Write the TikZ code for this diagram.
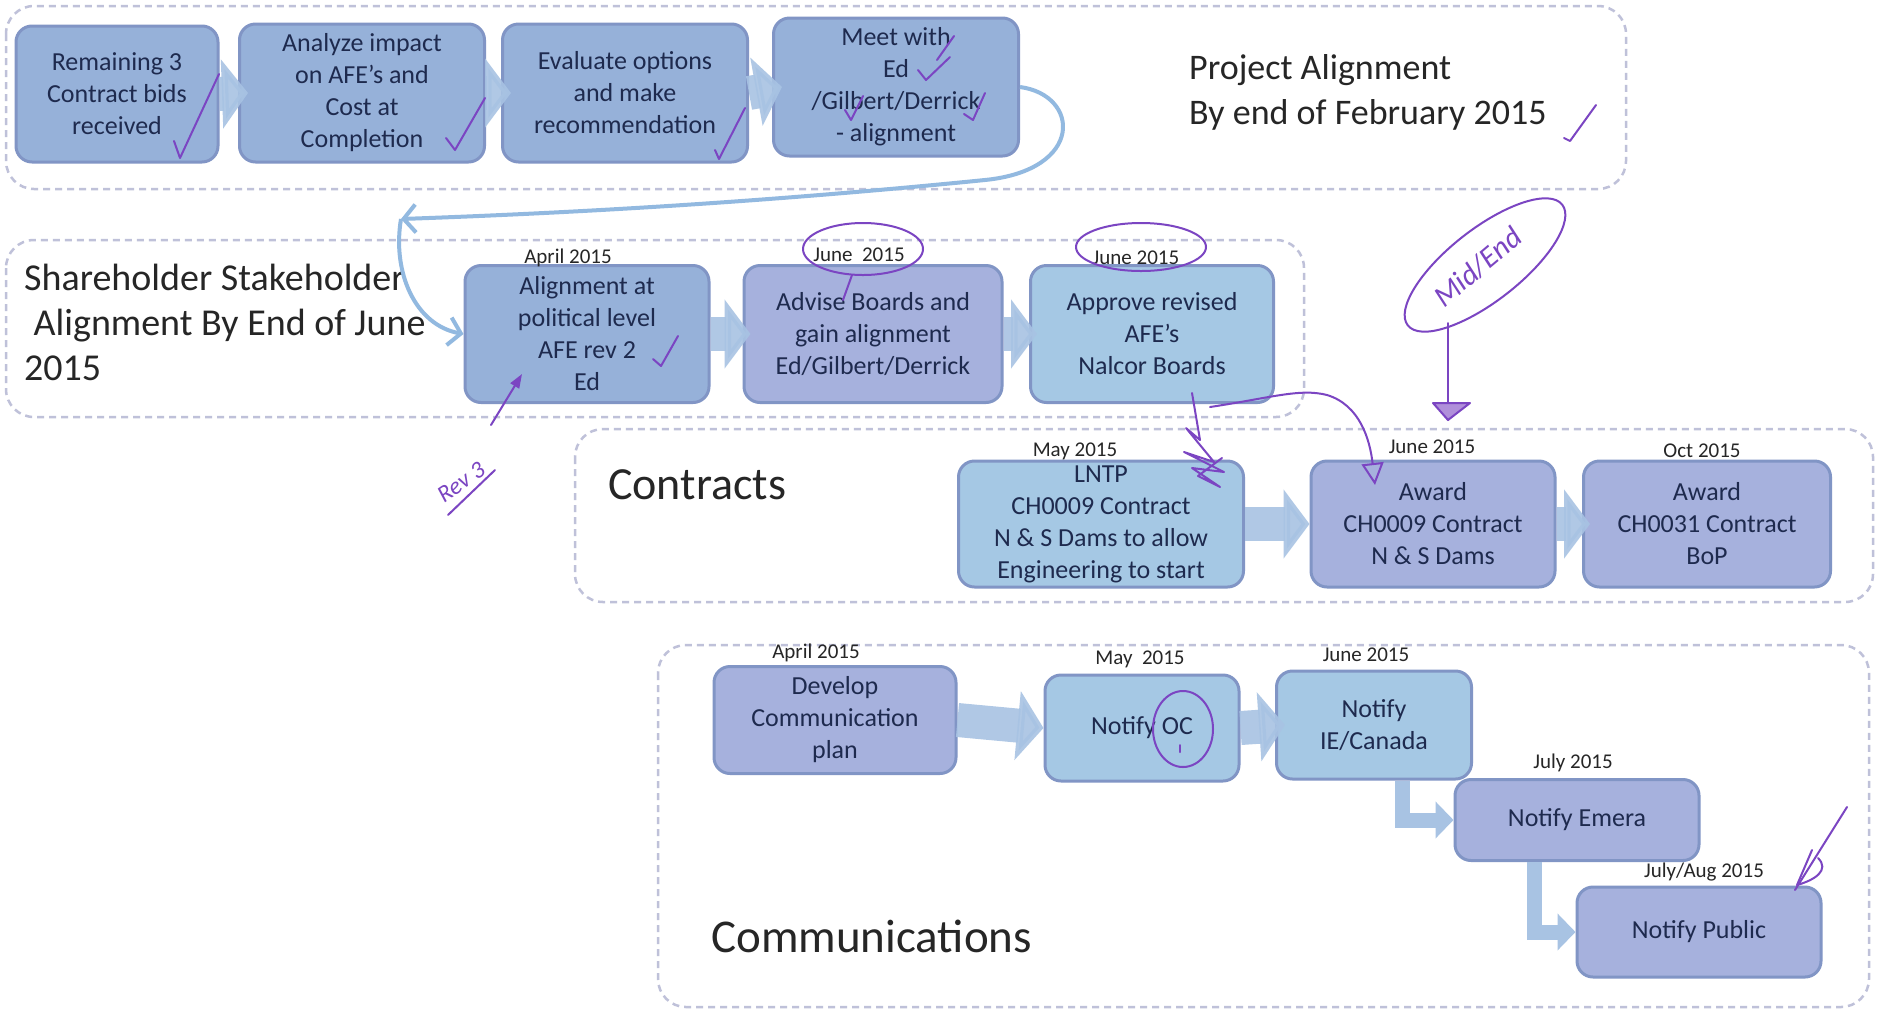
\documentclass[tikz,border=0pt]{standalone}
\usepackage{fontspec}
\setmainfont{Carlito}
\usetikzlibrary{arrows.meta}
\definecolor{boxblue}{HTML}{96B1D9}
\definecolor{boxlav}{HTML}{A6B1DD}
\definecolor{boxcyan}{HTML}{A5C8E4}
\definecolor{boxedge}{HTML}{8195C5}
\definecolor{arrowblue}{HTML}{A8C3E3}
\definecolor{linkblue}{HTML}{92B9E0}
\definecolor{grpline}{HTML}{BFC1D9}
\definecolor{navy}{HTML}{1E2A4E}
\definecolor{ink}{HTML}{7B45C2}

\begin{document}
\begin{tikzpicture}[x=1pt,y=-1pt,
  task/.style={draw=boxedge,line width=3pt,rounded corners=16pt,inner sep=0pt,align=center,text=navy,font=\fontsize{26}{32}\selectfont},
  when/.style={text=black!85,font=\fontsize{21}{24}\selectfont,inner sep=0pt},
  heading/.style={anchor=west,align=left,text=black!85,inner sep=0pt},
  grp/.style={draw=grpline,line width=2.5pt,dash pattern=on 7pt off 5pt,rounded corners=28pt},
  fat/.style={draw=arrowblue,opacity=0.9,line width=34pt,-{Triangle[length=26pt,width=68pt]}},
  elbow/.style={draw=arrowblue,line width=15pt,-{Triangle[length=18pt,width=36pt]}},
  loopline/.style={draw=linkblue,line width=4pt,-{Straight Barb[length=12pt,width=28pt]}},
  pen/.style={draw=ink,line width=2pt,line cap=round,line join=round}]

\path[use as bounding box,fill=white] (0,0) rectangle (1879,1013);

% group frames
\draw[grp] (6,6) rectangle (1626,189);
\draw[grp] (6,240) rectangle (1304,417);
\draw[grp] (575,429) rectangle (1873,602);
\draw[grp] (658,645) rectangle (1869,1007);

% project alignment
\node[task,fill=boxblue,minimum width=202pt,minimum height=136pt] (bids) at (117,94) {Remaining 3\\Contract bids\\received};
\node[task,fill=boxblue,minimum width=245pt,minimum height=138pt] (impact) at (362,93) {Analyze impact\\on AFE’s and\\Cost at\\Completion};
\node[task,fill=boxblue,minimum width=245pt,minimum height=138pt] (options) at (625,93) {Evaluate options\\and make\\recommendation};
\node[task,fill=boxblue,minimum width=245pt,minimum height=138pt] (meet) at (896,87) {Meet with\\Ed\\/Gilbert/Derrick\\- alignment};
\node[heading,font=\fontsize{36}{45}\selectfont] (goal1) at (1189,92) {Project Alignment\\By end of February 2015};

% shareholder stakeholder alignment
\node[heading,font=\fontsize{38}{45}\selectfont] (goal2) at (24,322) {Shareholder Stakeholder\\\hspace*{0.25em}Alignment By End of June\\2015};
\node[task,fill=boxblue,minimum width=244pt,minimum height=137pt] (political) at (587,334) {Alignment at\\political level\\AFE rev 2\\Ed};
\node[task,fill=boxlav,minimum width=258pt,minimum height=137pt] (advise) at (873,334) {Advise Boards and\\gain alignment\\Ed/Gilbert/Derrick};
\node[task,fill=boxcyan,minimum width=243pt,minimum height=137pt] (approve) at (1152,334) {Approve revised\\AFE’s\\Nalcor Boards};
\node[when] (d1) at (568,258) {April 2015};
\node[when] (d2) at (859,255) {June~ 2015};
\node[when] (d3) at (1136,258) {June 2015};

% contracts
\node[heading,font=\fontsize{46}{52}\selectfont] (goal3) at (608,485) {Contracts};
\node[task,fill=boxcyan,minimum width=285pt,minimum height=126pt] (lntp) at (1101,524) {LNTP\\CH0009 Contract\\N \& S Dams to allow\\Engineering to start};
\node[task,fill=boxlav,minimum width=244pt,minimum height=126pt] (award9) at (1433,524) {Award\\CH0009 Contract\\N \& S Dams};
\node[task,fill=boxlav,minimum width=247pt,minimum height=126pt] (award31) at (1707,524) {Award\\CH0031 Contract\\BoP};
\node[when] (d4) at (1075,451) {May 2015};
\node[when] (d5) at (1432,447) {June 2015};
\node[when] (d6) at (1702,451) {Oct 2015};

% communications
\node[heading,font=\fontsize{47}{54}\selectfont] (goal4) at (711,936) {Communications};
\node[task,fill=boxlav,minimum width=242pt,minimum height=107pt] (plan) at (835,720) {Develop\\Communication\\plan};
\node[task,fill=boxcyan,minimum width=194pt,minimum height=106pt] (oc) at (1142,728) {Notify OC};
\node[task,fill=boxcyan,minimum width=195pt,minimum height=108pt] (canada) at (1374,725) {Notify\\IE/Canada};
\node[task,fill=boxlav,minimum width=244pt,minimum height=81pt] (emera) at (1577,820) {Notify Emera};
\node[task,fill=boxlav,minimum width=244pt,minimum height=90pt] (public) at (1699,932) {Notify Public};
\node[when] (d7) at (816,653) {April 2015};
\node[when] (d8) at (1140,659) {May~ 2015};
\node[when] (d9) at (1366,655) {June 2015};
\node[when] (d10) at (1573,763) {July 2015};
\node[when] (d11) at (1704,872) {July/Aug 2015};

% flow arrows
\draw[fat] (bids.east) -- ([xshift=10pt]impact.west);
\draw[fat] (impact.east) -- ([xshift=10pt]options.west);
\draw[fat] (options.east) -- ([xshift=10pt]meet.west);
\draw[fat] (political.east) -- ([xshift=8pt]advise.west);
\draw[fat] (advise.east) -- ([xshift=8pt]approve.west);
\draw[fat] (lntp.east) -- (award9.west);
\draw[fat] (award9.east) -- ([xshift=8pt]award31.west);
\draw[fat] (plan.east) -- (oc.west);
\draw[fat] (oc.east) -- ([xshift=10pt]canada.west);
\draw[elbow] ([xshift=28pt]canada.south) |- (emera.west);
\draw[elbow] ([xshift=-43pt]emera.south) |- (public.west);

% link from project alignment down to shareholder row
\coordinate (turn) at (401,219);
\draw[loopline] (meet.east) .. controls (1080,95) and (1085,170) .. (985,180) .. controls (785,200) and (600,212) .. (turn);
\draw[loopline] (turn) .. controls (392,272) and (415,325) .. (political.west);

% hand marks
\draw[pen] (174,141) -- (180,158) -- (219,74);
\draw[pen] (446,138) -- (455,150) -- (485,98);
\draw[pen] (715,150) -- (719,159) -- (745,108);
\draw[pen] (918,70) -- (926,80) -- (950,57);
\draw[pen] (937,60) -- (954,36);
\draw[pen] (845,110) -- (851,120) -- (863,96);
\draw[pen] (964,114) -- (973,120) -- (985,93);
\draw[pen] (1564,138) -- (1570,141) -- (1596,105);
\draw[pen] (653,359) -- (661,366) -- (678,336);
\draw[pen] (863,249) ellipse (60 and 26);
\draw[pen] (852,275) -- (843,300);
\draw[pen] (1141,247) ellipse (65 and 24);
\draw[pen] (1183,729) ellipse (30 and 38);
\draw[pen] (1180,745) -- (1180,752);
\draw[pen,rotate around={38:(1485,265)}] (1485,265) ellipse (98 and 36);
\node[text=ink,font=\fontsize{30}{30}\selectfont\itshape,rotate=40] (midend) at (1478,267) {Mid/End};
\draw[pen] (1448,323) -- (1448,420);
\draw[pen,fill=ink!60] (1433,403) -- (1470,403) -- (1448,420) -- cycle;
\node[text=ink,font=\fontsize{24}{24}\selectfont\itshape,rotate=35] (rev) at (461,482) {Rev 3};
\draw[pen] (448,515) -- (495,470);
\draw[pen,-{Triangle[length=14pt,width=10pt]}] (491,425) -- (522,374);
\draw[pen,-{Triangle[length=22pt,width=22pt,open]}] (1210,407) .. controls (1270,398) and (1300,388) .. (1327,395) .. controls (1360,405) and (1370,440) .. (1375,485);
\draw[pen] (1192,393) -- (1200,440) -- (1186,428) -- (1214,462) -- (1184,452) -- (1224,472) -- (1192,468) -- (1220,487) -- (1198,476) -- (1222,458);
\draw[pen] (1847,807) -- (1795,890);
\draw[pen] (1812,850) -- (1797,885) .. controls (1815,880) and (1830,870) .. (1818,858);
\end{tikzpicture}
\end{document}
